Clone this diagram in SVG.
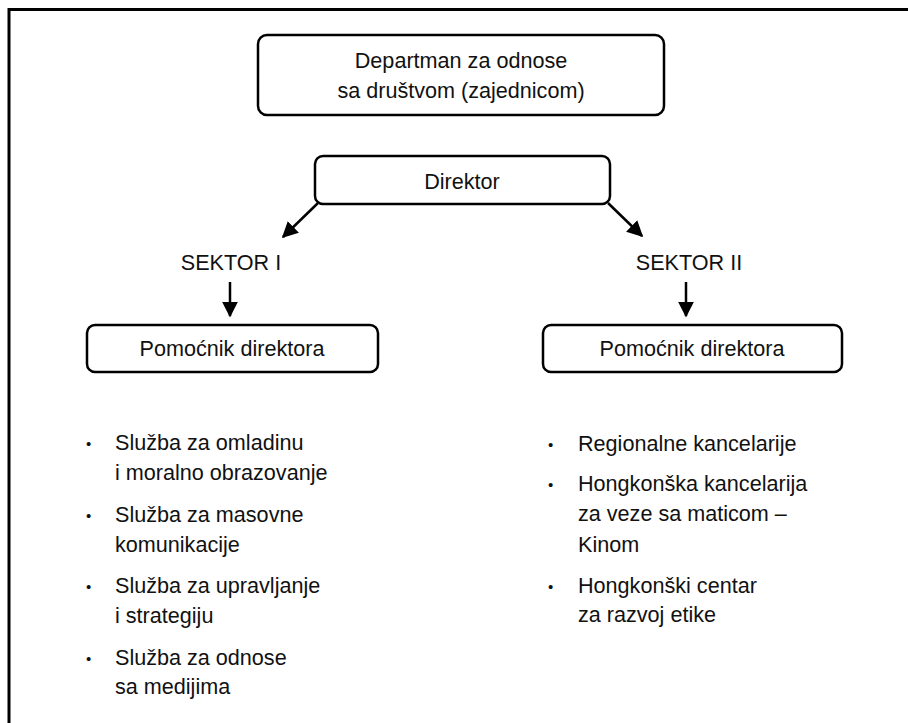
<svg xmlns="http://www.w3.org/2000/svg" width="908" height="723" viewBox="0 0 908 723">
<style>
  .box{fill:#fff;stroke:#000;stroke-width:2.5}
  .t{font-family:"Liberation Sans",Arial,sans-serif;font-size:21.6px;fill:#111}
  .c{text-anchor:middle}
  .b{font-family:"Liberation Sans",Arial,sans-serif;font-size:15px;fill:#111}
  .ln{stroke:#000;stroke-width:2.5;fill:none}
</style>
<defs>
  <marker id="ah" viewBox="0 0 10 10" refX="9" refY="5" markerUnits="userSpaceOnUse" markerWidth="16" markerHeight="18" orient="auto">
    <path d="M0,0 L10,5 L0,10 z" fill="#000"/>
  </marker>
</defs>
<rect width="908" height="723" fill="#fff"/>
<path d="M9,723 V9.5 H908" fill="none" stroke="#000" stroke-width="3"/>

<g id="dept">
  <rect class="box" x="258" y="35" width="406" height="80" rx="9"/>
  <text class="t c" x="461" y="68">Departman za odnose</text>
  <text class="t c" x="461" y="98">sa društvom (zajednicom)</text>
</g>
<g id="direktor">
  <rect class="box" x="315" y="156" width="295" height="48" rx="8"/>
  <text class="t c" x="462" y="189">Direktor</text>
</g>
<g id="sektor1">
  <text class="t c" x="231" y="270">SEKTOR I</text>
</g>
<g id="sektor2">
  <text class="t c" x="689" y="270">SEKTOR II</text>
</g>
<g id="pom1">
  <rect class="box" x="87" y="325" width="291" height="47" rx="8"/>
  <text class="t c" x="232" y="356">Pomoćnik direktora</text>
</g>
<g id="pom2">
  <rect class="box" x="543" y="325" width="299" height="47" rx="8"/>
  <text class="t c" x="692" y="356">Pomoćnik direktora</text>
</g>
<g id="list1">
  <text class="b" x="86" y="449">•</text>
  <text class="t" x="115" y="450">Služba za omladinu</text>
  <text class="t" x="115" y="480">i moralno obrazovanje</text>
  <text class="b" x="86" y="521">•</text>
  <text class="t" x="115" y="522">Služba za masovne</text>
  <text class="t" x="115" y="552">komunikacije</text>
  <text class="b" x="86" y="592">•</text>
  <text class="t" x="115" y="593">Služba za upravljanje</text>
  <text class="t" x="115" y="623">i strategiju</text>
  <text class="b" x="86" y="664">•</text>
  <text class="t" x="115" y="665">Služba za odnose</text>
  <text class="t" x="115" y="694">sa medijima</text>
</g>
<g id="list2">
  <text class="b" x="548" y="450">•</text>
  <text class="t" x="578" y="451">Regionalne kancelarije</text>
  <text class="b" x="548" y="490">•</text>
  <text class="t" x="578" y="491">Hongkonška kancelarija</text>
  <text class="t" x="578" y="521">za veze sa maticom –</text>
  <text class="t" x="578" y="552">Kinom</text>
  <text class="b" x="548" y="592">•</text>
  <text class="t" x="578" y="593">Hongkonški centar</text>
  <text class="t" x="578" y="622">za razvoj etike</text>
</g>
<g id="connectors">
  <line class="ln" x1="318" y1="203" x2="283" y2="237" marker-end="url(#ah)"/>
  <line class="ln" x1="608" y1="203" x2="642" y2="236" marker-end="url(#ah)"/>
  <line class="ln" x1="230" y1="282" x2="230" y2="316" marker-end="url(#ah)"/>
  <line class="ln" x1="686" y1="282" x2="686" y2="316" marker-end="url(#ah)"/>
</g>
</svg>
